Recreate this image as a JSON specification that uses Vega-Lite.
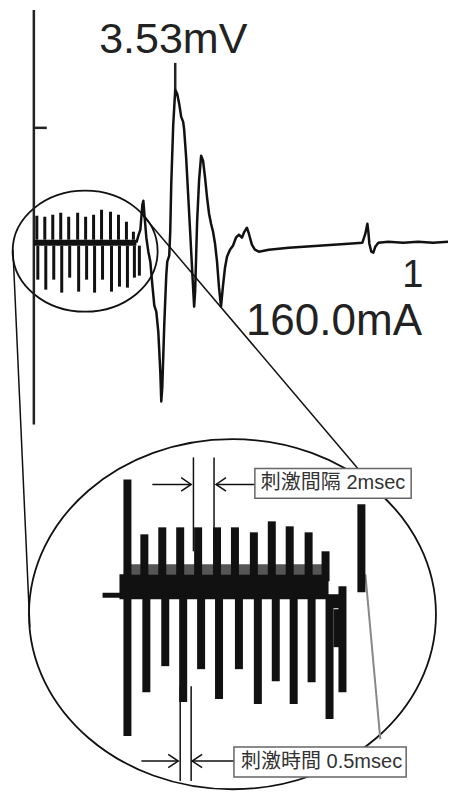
{
  "$schema": "https://vega.github.io/schema/vega-lite/v6.json",
  "width": 450,
  "height": 793,
  "autosize": {"type": "fit", "contains": "padding"},
  "padding": 0,
  "background": "white",
  "config": {"view": {"stroke": null}},
  "datasets": {
    "trace": [
      {"x":137,"y":243},{"x":139,"y":236},{"x":141,"y":230},{"x":143,"y":205},{"x":144,"y":201},{"x":145,"y":214},{"x":147,"y":238},{"x":149,"y":252},{"x":151,"y":262},{"x":153,"y":285},{"x":155,"y":306},{"x":157,"y":312},{"x":159,"y":332},{"x":161,"y":372},{"x":162,"y":402},{"x":163,"y":388},{"x":165,"y":325},{"x":167,"y":276},{"x":168,"y":262},{"x":170,"y":256},{"x":171,"y":232},{"x":172,"y":185},{"x":174,"y":125},{"x":176,"y":90},{"x":178,"y":94},{"x":180,"y":104},{"x":182,"y":117},{"x":184,"y":122},{"x":185,"y":130},{"x":187,"y":158},{"x":189,"y":195},{"x":191,"y":232},{"x":193,"y":270},{"x":195,"y":307},{"x":196,"y":292},{"x":198,"y":222},{"x":200,"y":180},{"x":202,"y":156},{"x":204,"y":161},{"x":206,"y":178},{"x":208,"y":198},{"x":210,"y":214},{"x":212,"y":224},{"x":214,"y":232},{"x":216,"y":244},{"x":218,"y":262},{"x":220,"y":288},{"x":222,"y":307},{"x":224,"y":286},{"x":226,"y":268},{"x":228,"y":257},{"x":231,"y":250},{"x":234,"y":246},{"x":237,"y":238},{"x":240,"y":235},{"x":243,"y":238},{"x":245,"y":233},{"x":248,"y":228},{"x":250,"y":234},{"x":253,"y":245},{"x":256,"y":250},{"x":260,"y":252},{"x":265,"y":251},{"x":270,"y":250},{"x":280,"y":249},{"x":290,"y":248},{"x":305,"y":247},{"x":320,"y":246},{"x":335,"y":245},{"x":350,"y":244},{"x":364,"y":243},{"x":367,"y":234},{"x":369,"y":224},{"x":370,"y":232},{"x":371,"y":244},{"x":373,"y":252},{"x":375,"y":253},{"x":377,"y":247},{"x":380,"y":243},{"x":390,"y":242},{"x":405,"y":243},{"x":420,"y":242},{"x":435,"y":243},{"x":450,"y":242}
    ],
    "trainTop": [
      {"x":37,"y":240,"y2":216},{"x":45,"y":240,"y2":217},{"x":53,"y":240,"y2":215},{"x":61,"y":240,"y2":213},{"x":69,"y":240,"y2":217},{"x":78,"y":240,"y2":213},{"x":86,"y":240,"y2":217},{"x":94,"y":240,"y2":215},{"x":102,"y":240,"y2":210},{"x":111,"y":240,"y2":212},{"x":119,"y":240,"y2":215},{"x":127,"y":240,"y2":222},{"x":134,"y":240,"y2":232},
      {"x":38,"y":246,"y2":280},{"x":46,"y":246,"y2":290},{"x":54,"y":246,"y2":280},{"x":62,"y":246,"y2":293},{"x":70,"y":246,"y2":278},{"x":79,"y":246,"y2":292},{"x":87,"y":246,"y2":280},{"x":95,"y":246,"y2":293},{"x":103,"y":246,"y2":280},{"x":112,"y":246,"y2":292},{"x":120,"y":246,"y2":287},{"x":128,"y":246,"y2":288},{"x":135,"y":246,"y2":278},{"x":140,"y":246,"y2":276}
    ],
    "insetBars": [
      {"x":145,"y":582,"y2":535},{"x":163,"y":582,"y2":528},{"x":181,"y":582,"y2":528},{"x":199,"y":582,"y2":528},{"x":218,"y":582,"y2":528},{"x":236,"y":582,"y2":528},{"x":255,"y":582,"y2":533},{"x":273,"y":582,"y2":522},{"x":291,"y":582,"y2":527},{"x":310,"y":582,"y2":533},{"x":327,"y":582,"y2":552},{"x":344,"y":587,"y2":693},{"x":363,"y":593,"y2":505},
      {"x":128,"y":480,"y2":737},{"x":147,"y":596,"y2":693},{"x":166,"y":596,"y2":667},{"x":184,"y":596,"y2":703},{"x":202,"y":596,"y2":670},{"x":220,"y":596,"y2":700},{"x":240,"y":596,"y2":670},{"x":259,"y":596,"y2":705},{"x":277,"y":596,"y2":682},{"x":295,"y":596,"y2":705},{"x":313,"y":596,"y2":683},{"x":331,"y":596,"y2":720},{"x":339,"y":610,"y2":648}
    ],
    "bands": [
      {"g":"gray","x":125,"x2":330,"y":570},
      {"g":"main","x":120,"x2":330,"y":587.5},
      {"g":"stub","x":103,"x2":122,"y":596},
      {"g":"end","x":328,"x2":345,"y":602},
      {"g":"top","x":34,"x2":137,"y":243}
    ],
    "frame": [
      {"g":"axis","x":34,"y":10,"x2":34,"y2":425},
      {"g":"axis","x":34,"y":128,"x2":47,"y2":128},
      {"g":"axis","x":176,"y":63,"x2":176,"y2":92},
      {"g":"thin","x":13,"y":250,"x2":30,"y2":628},
      {"g":"thin","x":143,"y":215,"x2":362,"y2":472},
      {"g":"thin","x":153,"y":485,"x2":192,"y2":485},
      {"g":"thin","x":217,"y":485,"x2":256,"y2":485},
      {"g":"thin","x":142,"y":762,"x2":179,"y2":762},
      {"g":"thin","x":193,"y":762,"x2":235,"y2":762},
      {"g":"thin","x":194.3,"y":458,"x2":194.3,"y2":552},
      {"g":"thin","x":215,"y":458,"x2":215,"y2":552},
      {"g":"thin","x":181,"y":687,"x2":181,"y2":782},
      {"g":"thin","x":192,"y":687,"x2":192,"y2":782},
      {"g":"gray","x":367,"y":575,"x2":382,"y2":740}
    ],
    "ellipses": [
      {"g":"top","x":85.5,"y":251.5},
      {"g":"inset","x":233.5,"y":615}
    ],
    "heads": [
      {"dir":"right","x":192,"y":485},
      {"dir":"left","x":217,"y":485},
      {"dir":"right","x":179,"y":762},
      {"dir":"left","x":193,"y":762}
    ],
    "boxes": [
      {"x":256,"x2":413,"y":469,"y2":499},
      {"x":235,"x2":408,"y":748,"y2":778}
    ],
    "bigLabels": [
      {"x":174,"y":53,"text":"3.53mV","s":"a"},
      {"x":404,"y":287,"text":"1","s":"b"},
      {"x":247,"y":335,"text":"160.0mA","s":"c"}
    ],
    "boxLabels": [
      {"x":262,"y":484,"text":"刺激間隔","s":"jp"},
      {"x":348,"y":484,"text":"2msec","s":"en"},
      {"x":242,"y":763,"text":"刺激時間","s":"jp"},
      {"x":328,"y":763,"text":"0.5msec","s":"en"}
    ]
  },
  "encoding": {
    "x": {"field": "x", "type": "quantitative", "scale": {"domain": [0, 450], "nice": false, "zero": false}, "axis": null},
    "y": {"field": "y", "type": "quantitative", "scale": {"domain": [0, 793], "nice": false, "zero": false, "reverse": true}, "axis": null}
  },
  "layer": [
    {
      "data": {"name": "ellipses"},
      "transform": [{"filter": "datum.g == 'top'"}],
      "mark": {"type": "point", "shape": "M -1 0 A 1 0.834 0 1 1 1 0 A 1 0.834 0 1 1 -1 0 Z", "size": 21025, "filled": false, "color": "#111", "strokeWidth": 1.8, "opacity": 1}
    },
    {
      "data": {"name": "ellipses"},
      "transform": [{"filter": "datum.g == 'inset'"}],
      "mark": {"type": "point", "shape": "M -1 0 A 1 0.86 0 1 1 1 0 A 1 0.86 0 1 1 -1 0 Z", "size": 165649, "filled": false, "color": "#111", "strokeWidth": 1.8, "opacity": 1}
    },
    {
      "data": {"name": "frame"},
      "transform": [{"filter": "datum.g == 'axis'"}],
      "mark": {"type": "rule", "color": "#222", "strokeWidth": 2.5},
      "encoding": {"x2": {"field": "x2"}, "y2": {"field": "y2"}}
    },
    {
      "data": {"name": "frame"},
      "transform": [{"filter": "datum.g == 'thin'"}],
      "mark": {"type": "rule", "color": "#111", "strokeWidth": 1.5},
      "encoding": {"x2": {"field": "x2"}, "y2": {"field": "y2"}}
    },
    {
      "data": {"name": "frame"},
      "transform": [{"filter": "datum.g == 'gray'"}],
      "mark": {"type": "rule", "color": "#888", "strokeWidth": 2},
      "encoding": {"x2": {"field": "x2"}, "y2": {"field": "y2"}}
    },
    {
      "data": {"name": "bands"},
      "transform": [{"filter": "datum.g == 'gray'"}],
      "mark": {"type": "rule", "color": "#555", "strokeWidth": 10},
      "encoding": {"x2": {"field": "x2"}}
    },
    {
      "data": {"name": "bands"},
      "transform": [{"filter": "datum.g == 'main'"}],
      "mark": {"type": "rule", "color": "#111", "strokeWidth": 25},
      "encoding": {"x2": {"field": "x2"}}
    },
    {
      "data": {"name": "bands"},
      "transform": [{"filter": "datum.g == 'stub'"}],
      "mark": {"type": "rule", "color": "#111", "strokeWidth": 5},
      "encoding": {"x2": {"field": "x2"}}
    },
    {
      "data": {"name": "bands"},
      "transform": [{"filter": "datum.g == 'top'"}],
      "mark": {"type": "rule", "color": "#111", "strokeWidth": 6},
      "encoding": {"x2": {"field": "x2"}}
    },
    {
      "data": {"name": "bands"},
      "transform": [{"filter": "datum.g == 'end'"}],
      "mark": {"type": "rule", "color": "#111", "strokeWidth": 14},
      "encoding": {"x2": {"field": "x2"}}
    },
    {
      "data": {"name": "insetBars"},
      "mark": {"type": "rule", "color": "#111", "strokeWidth": 8},
      "encoding": {"y2": {"field": "y2"}}
    },
    {
      "data": {"name": "trainTop"},
      "mark": {"type": "rule", "color": "#111", "strokeWidth": 3},
      "encoding": {"y2": {"field": "y2"}}
    },
    {
      "data": {"name": "trace"},
      "mark": {"type": "line", "color": "#111", "strokeWidth": 2.5, "strokeJoin": "round"}
    },
    {
      "data": {"name": "heads"},
      "transform": [{"filter": "datum.dir == 'right'"}],
      "mark": {"type": "point", "shape": "M -1 -0.67 L 0 0 L -1 0.67", "size": 400, "filled": false, "color": "#111", "strokeWidth": 1.5, "opacity": 1}
    },
    {
      "data": {"name": "heads"},
      "transform": [{"filter": "datum.dir == 'left'"}],
      "mark": {"type": "point", "shape": "M 1 -0.67 L 0 0 L 1 0.67", "size": 400, "filled": false, "color": "#111", "strokeWidth": 1.5, "opacity": 1}
    },
    {
      "data": {"name": "boxes"},
      "mark": {"type": "rect", "fill": "white", "stroke": "#666", "strokeWidth": 1.5},
      "encoding": {"x2": {"field": "x2"}, "y2": {"field": "y2"}}
    },
    {
      "data": {"name": "boxLabels"},
      "transform": [{"filter": "datum.s == 'jp'"}],
      "mark": {"type": "text", "font": "Noto Sans CJK JP", "fontSize": 20, "align": "left", "baseline": "middle", "color": "#333"},
      "encoding": {"text": {"field": "text"}}
    },
    {
      "data": {"name": "boxLabels"},
      "transform": [{"filter": "datum.s == 'en'"}],
      "mark": {"type": "text", "font": "Liberation Sans", "fontSize": 20, "align": "left", "baseline": "middle", "color": "#333"},
      "encoding": {"text": {"field": "text"}}
    },
    {
      "data": {"name": "bigLabels"},
      "transform": [{"filter": "datum.s == 'a'"}],
      "mark": {"type": "text", "font": "Liberation Sans", "fontSize": 43, "align": "center", "baseline": "alphabetic", "color": "#222"},
      "encoding": {"text": {"field": "text"}}
    },
    {
      "data": {"name": "bigLabels"},
      "transform": [{"filter": "datum.s == 'b'"}],
      "mark": {"type": "text", "font": "Liberation Sans", "fontSize": 38, "align": "left", "baseline": "alphabetic", "color": "#222"},
      "encoding": {"text": {"field": "text"}}
    },
    {
      "data": {"name": "bigLabels"},
      "transform": [{"filter": "datum.s == 'c'"}],
      "mark": {"type": "text", "font": "Liberation Sans", "fontSize": 44, "align": "left", "baseline": "alphabetic", "color": "#222"},
      "encoding": {"text": {"field": "text"}}
    }
  ]
}
